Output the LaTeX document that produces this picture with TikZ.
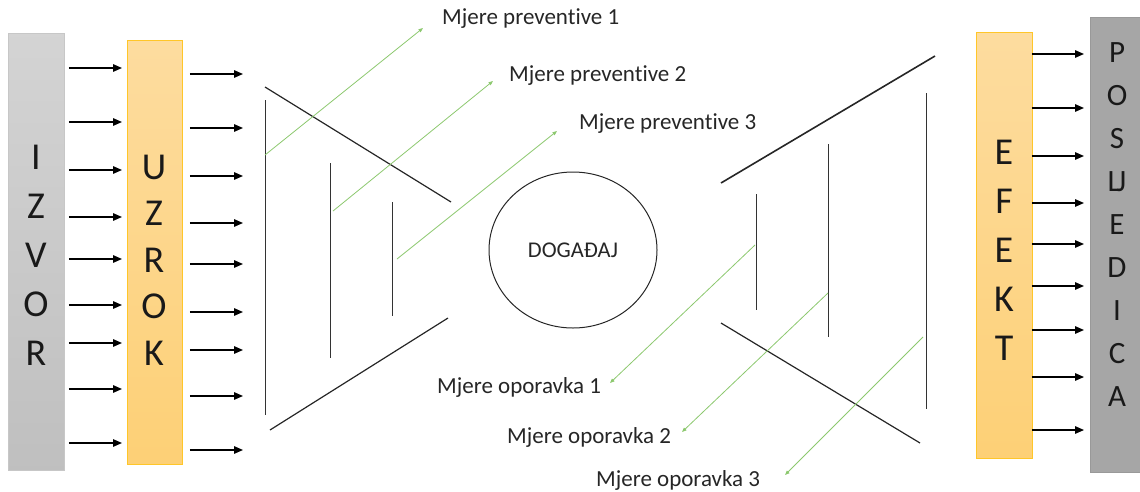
\documentclass[tikz,border=0pt]{standalone}
\usepackage{fontspec}
\setmainfont{Carlito}[Ligatures={NoCommon,NoRequired,NoContextual}]
\usetikzlibrary{arrows.meta,shapes.geometric}
\definecolor{grn}{HTML}{8CC86E}
\definecolor{orT}{HTML}{FDDC9F}
\definecolor{orB}{HTML}{FDD076}
\definecolor{orE}{HTML}{FFC629}
\begin{document}
\begin{tikzpicture}[x=1pt,y=-1pt,
  arr/.style={line width=1.4pt,-{Triangle[length=9pt,width=7.5pt]}},
  garr/.style={draw=grn,line width=0.8pt,-{Triangle[length=4.5pt,width=3.5pt]}},
  bline/.style={draw=black!85,line width=1.2pt},
  vline/.style={draw=black!80,line width=0.9pt},
  graybox/.style={draw=black!22,line width=0.8pt,top color=black!17,bottom color=black!25,anchor=north west,inner sep=0},
  orbox/.style={draw=orE,line width=0.8pt,top color=orT,bottom color=orB,anchor=north west,inner sep=0},
  darkbox/.style={draw=black!40,line width=0.8pt,fill=black!35,anchor=north west,inner sep=0},
  letters/.style={align=center,inner sep=0,text=black!90,font=\fontsize{38}{49}\selectfont},
  lbl/.style={anchor=west,inner sep=0,font=\fontsize{23}{26}\selectfont,text=black!85}]
\useasboundingbox (0,0) rectangle (1140,491);
% boxes
\node[graybox,minimum width=56,minimum height=437] (izvor) at (8,33) {};
\node[orbox,minimum width=55,minimum height=424] (uzrok) at (127,40) {};
\node[orbox,minimum width=56,minimum height=426] (efekt) at (976,32) {};
\node[darkbox,minimum width=54,minimum height=455] (posl) at (1090,17) {};
% letters
\node[letters] (tiz) at (36,255) {I\\Z\\V\\O\\R};
\node[letters,font=\fontsize{38}{46.5}\selectfont] (tuz) at (154,260) {U\\Z\\R\\O\\K};
\node[letters] (tef) at (1004,250) {E\\F\\E\\K\\T};
\node[letters,font=\fontsize{31}{43}\selectfont] (tpo) at (1117,225) {P\\O\\S\\L\kern-0.14em J\\E\\D\\I\\C\\A};
% arrows
\foreach \y in {68,122,170,217,259,305,343,389,443}
  \draw[arr] ([xshift=4pt]izvor.east |- 0,\y) -- ([xshift=-5pt]uzrok.west |- 0,\y);
\foreach \y in {74,128,176,223,264,312,350,396,450}
  \draw[arr] ([xshift=7pt]uzrok.east |- 0,\y) -- (243,\y);
\foreach \y in {54,108,156,203,244,286,330,377,430}
  \draw[arr] ([xshift=-1pt]efekt.east |- 0,\y) -- ([xshift=-6pt]posl.west |- 0,\y);
% event
\node[ellipse,draw=black!85,line width=1pt,minimum width=168,minimum height=156,inner sep=0,font=\fontsize{22.5}{26}\selectfont,text=black!85] (dog) at (573,250) {DOGAĐAJ};
% left barriers
\draw[vline] (265,100) -- (265,415);
\draw[vline] (330,163) -- (330,358);
\draw[vline] (392,202) -- (392,316);
\draw[bline] (265,87) -- (451,202);
\draw[bline] (270,430) -- (448,318);
% right barriers
\draw[bline,line width=1.6pt] (721,183) -- (935,56);
\draw[vline] (756,194) -- (756,310);
\draw[vline] (828,144) -- (828,337);
\draw[vline] (926,93) -- (926,409);
\draw[bline] (721,323) -- (920,443);
% labels
\node[lbl] (mp1) at (442,19) {Mjere preventive 1};
\node[lbl] (mp2) at (509,76) {Mjere preventive 2};
\node[lbl] (mp3) at (579,124) {Mjere preventive 3};
\node[lbl] (mo1) at (437,387) {Mjere oporavka 1};
\node[lbl] (mo2) at (507,437) {Mjere oporavka 2};
\node[lbl] (mo3) at (596,480) {Mjere oporavka 3};
% green arrows
\draw[garr] (265,155) -- (423,28);
\draw[garr] (333,211) -- (493,81);
\draw[garr] (397,259) -- (557,131);
\draw[garr] (755,245) -- (610,383);
\draw[garr] (828,293) -- (682,432);
\draw[garr] (923,337) -- (785,475);
\end{tikzpicture}
\end{document}
